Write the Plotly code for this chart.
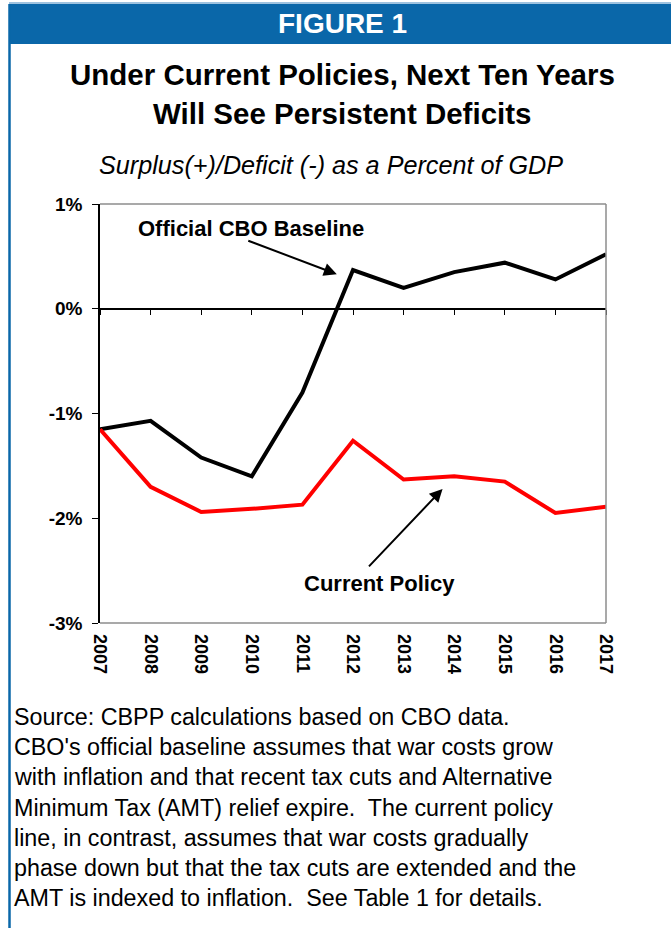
import plotly.graph_objects as go

years = [2007, 2008, 2009, 2010, 2011, 2012, 2013, 2014, 2015, 2016, 2017]
year_labels = [str(y) for y in years]
official_cbo_baseline = [-1.15, -1.07, -1.42, -1.60, -0.80, 0.37, 0.20, 0.35, 0.44, 0.28, 0.52]
current_policy = [-1.15, -1.70, -1.94, -1.91, -1.87, -1.26, -1.63, -1.60, -1.65, -1.95, -1.89]
y_tick_values = [-3, -2, -1, 0, 1]
y_tick_labels = ["-3%", "-2%", "-1%", "0%", "1%"]

W, H = 671, 928
L, R, T, B = 100, 606, 204, 623

def px(x):
    return (x - L) / (R - L)

def py(y):
    return (B - y) / (B - T)

ARIAL = "Liberation Sans, Arial, sans-serif"
BLUE = "#0a67a9"

fig = go.Figure()
fig.add_trace(go.Scatter(x=years, y=official_cbo_baseline, mode="lines",
                         line=dict(color="#000000", width=4), hoverinfo="skip",
                         showlegend=False))
fig.add_trace(go.Scatter(x=years, y=current_policy, mode="lines",
                         line=dict(color="#ff0000", width=4), hoverinfo="skip",
                         showlegend=False))
# dummy trace to activate the zero-crossing axis
fig.add_trace(go.Scatter(x=years, y=[None] * len(years), xaxis="x2", mode="lines",
                         hoverinfo="skip", showlegend=False))

fig.update_layout(
    width=W, height=H,
    margin=dict(l=L, r=W - R, t=T, b=H - B, pad=0),
    paper_bgcolor="white", plot_bgcolor="white",
    xaxis=dict(range=[2007, 2017], tickvals=years, ticktext=year_labels,
               tickangle=90, showline=False, showgrid=False, zeroline=False,
               ticks="", ticklabelstandoff=10,
               tickfont=dict(family=ARIAL, size=18, color="black", weight="bold")),
    xaxis2=dict(range=[2007, 2017], overlaying="x", anchor="free", position=0.75,
                tickvals=years, showticklabels=False, showline=True,
                linecolor="black", linewidth=1.5, ticks="outside", ticklen=5,
                tickcolor="black", tickwidth=1.2, showgrid=False, zeroline=False),
    yaxis=dict(range=[-3, 1], tickvals=y_tick_values, ticktext=y_tick_labels,
               showline=True, linecolor="black", linewidth=1.5, ticks="outside",
               ticklen=6, tickcolor="black", tickwidth=1.2, showgrid=False,
               zeroline=False, ticklabelstandoff=6,
               tickfont=dict(family=ARIAL, size=19, color="black", weight="bold")),
)

# Plot frame (top, right, bottom) in gray
fig.add_shape(type="line", xref="paper", yref="paper", x0=0, x1=1, y0=1, y1=1,
              line=dict(color="#8c8c8c", width=1.5))
fig.add_shape(type="line", xref="paper", yref="paper", x0=1, x1=1, y0=0, y1=1,
              line=dict(color="#8c8c8c", width=1.5))
fig.add_shape(type="line", xref="paper", yref="paper", x0=0, x1=1, y0=0, y1=0,
              line=dict(color="#8c8c8c", width=1.5))

# Header band and left border
fig.add_shape(type="rect", xref="paper", yref="paper", x0=px(9), x1=px(690),
              y0=py(44), y1=py(4), line=dict(width=0), fillcolor=BLUE, layer="below")
fig.add_shape(type="line", xref="paper", yref="paper", x0=px(9), x1=px(690),
              y0=py(3), y1=py(3), line=dict(color="#9ec3e0", width=2))
fig.add_shape(type="line", xref="paper", yref="paper", x0=px(9.5), x1=px(9.5),
              y0=py(4), y1=py(950), line=dict(color=BLUE, width=2.5))

def text(x, y, s, size, color="black", xanchor="center", bold=False, italic=False):
    if bold:
        s = "<b>" + s + "</b>"
    if italic:
        s = "<i>" + s + "</i>"
    fig.add_annotation(x=px(x), y=py(y), xref="paper", yref="paper", text=s,
                       showarrow=False, xanchor=xanchor, yanchor="middle",
                       font=dict(family=ARIAL, size=size, color=color))

text(342, 23, "FIGURE 1", 28, color="white", bold=True)
text(342, 74, "Under Current Policies, Next Ten Years", 29.5, bold=True)
text(342, 114, "Will See Persistent Deficits", 29.5, bold=True)
text(331, 165, "Surplus(+)/Deficit (-) as a Percent of GDP", 25.2, italic=True)

footer = [
    "Source: CBPP calculations based on CBO data.",
    "CBO's official baseline assumes that war costs grow",
    "with inflation and that recent tax cuts and Alternative",
    "Minimum Tax (AMT) relief expire.  The current policy",
    "line, in contrast, assumes that war costs gradually",
    "phase down but that the tax cuts are extended and the",
    "AMT is indexed to inflation.  See Table 1 for details.",
]
for i, line in enumerate(footer):
    text(12, 717 + 30.2 * i, line.replace("  ", "&nbsp; "), 23.3, xanchor="left")

# Series labels with arrows
text(251, 228, "Official CBO Baseline", 22, bold=True)
text(379, 583, "Current Policy", 22, bold=True)
fig.add_annotation(x=2011.68, y=0.33, xref="x", yref="y", ax=-90, ay=-34,
                   axref="pixel", ayref="pixel", text="", showarrow=True,
                   arrowhead=2, arrowsize=1.3, arrowwidth=2, arrowcolor="black")
fig.add_annotation(x=2013.77, y=-1.72, xref="x", yref="y", ax=-75, ay=79,
                   axref="pixel", ayref="pixel", text="", showarrow=True,
                   arrowhead=2, arrowsize=1.3, arrowwidth=2, arrowcolor="black")

fig.write_html(
    "out.html",
    config={"displayModeBar": False},
    post_script="document.body.style.margin='0';document.body.style.overflow='hidden';",
)
